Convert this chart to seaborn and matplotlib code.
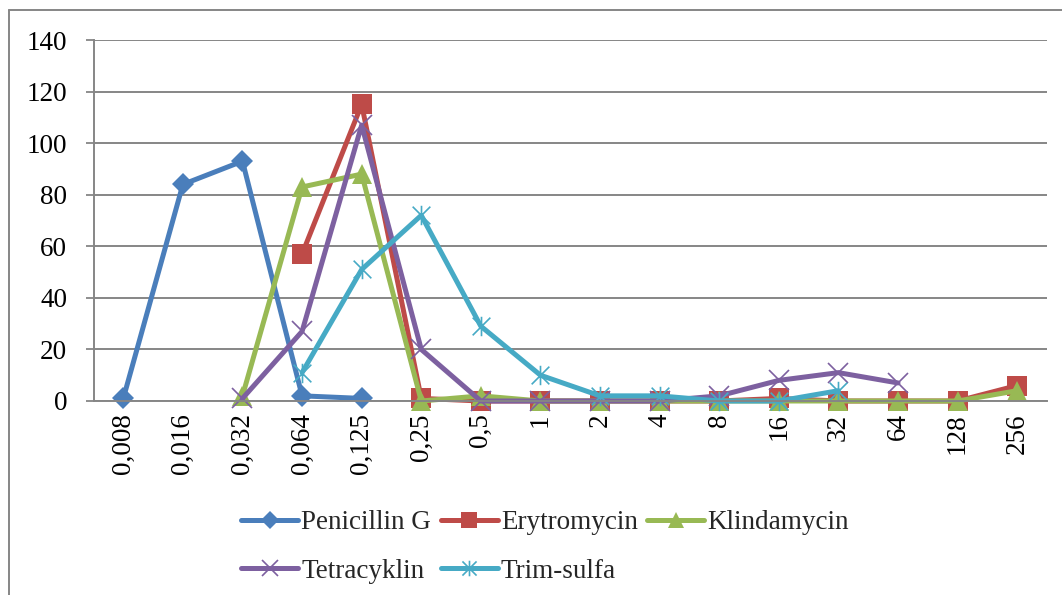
import numpy as np
import pandas as pd
import matplotlib
matplotlib.use("Agg")
import matplotlib.pyplot as plt
from matplotlib.path import Path
from matplotlib.lines import Line2D
import seaborn as sns

# MIC concentrations (category axis)
concentrations = ["0,008", "0,016", "0,032", "0,064", "0,125", "0,25", "0,5", "1",
                  "2", "4", "8", "16", "32", "64", "128", "256"]

nan = np.nan
penicillin_g = [1, 84, 93, 2, 1, nan, nan, nan, nan, nan, nan, nan, nan, nan, nan, nan]
erytromycin = [nan, nan, nan, 57, 115, 1, 0, 0, 0, 0, 0, 1, 0, 0, 0, 6]
klindamycin = [nan, nan, 2, 83, 88, 0, 2, 0, 0, 0, 0, 0, 0, 0, 0, 4]
tetracyklin = [nan, nan, 1, 27, 107, 20, 0, 0, 0, 0, 2, 8, 11, 7, nan, nan]
trim_sulfa = [nan, nan, nan, 11, 51, 72, 29, 10, 2, 2, 0, 0, 4, nan, nan, nan]

series_names = ["Penicillin G", "Erytromycin", "Klindamycin", "Tetracyklin", "Trim-sulfa"]
y_ticks = [0, 20, 40, 60, 80, 100, 120, 140]

# Excel-style asterisk marker: X with a vertical stroke
star_path = Path(
    [(-0.5, -0.5), (0.5, 0.5), (-0.5, 0.5), (0.5, -0.5), (0, -0.55), (0, 0.55)],
    [Path.MOVETO, Path.LINETO, Path.MOVETO, Path.LINETO, Path.MOVETO, Path.LINETO],
)

styles = {
    "Penicillin G": dict(color="#4A7EBB", marker="D", ms=11, mew=0),
    "Erytromycin": dict(color="#BE4B48", marker="s", ms=14, mew=0),
    "Klindamycin": dict(color="#98B954", marker="^", ms=14, mew=0),
    "Tetracyklin": dict(color="#7D60A0", marker="x", ms=14, mew=1.2),
    "Trim-sulfa": dict(color="#46AAC5", marker=star_path, ms=14, mew=1.2),
}

values = [penicillin_g, erytromycin, klindamycin, tetracyklin, trim_sulfa]
frames = []
for name, vals in zip(series_names, values):
    frames.append(pd.DataFrame({"pos": np.arange(len(concentrations)),
                                "value": vals, "drug": name}))
df = pd.concat(frames, ignore_index=True).dropna()

sns.set_theme(style="white")
plt.rcParams["font.family"] = ["Liberation Serif", "DejaVu Serif"]
fs = 19.5

fig = plt.figure(figsize=(10.62, 5.95), dpi=100)
ax = fig.add_axes([93.5 / 1062, 1 - 401 / 595, (1047 - 93.5) / 1062, (401 - 40) / 595])

grid_color = "#868686"
for name in series_names:
    st = styles[name]
    sub = df[df["drug"] == name]
    sns.lineplot(data=sub, x="pos", y="value", ax=ax, color=st["color"],
                 linewidth=3.6, marker=st["marker"], markersize=st["ms"],
                 markeredgewidth=st["mew"], markeredgecolor=st["color"],
                 estimator=None, sort=False, label=name, clip_on=False)

ax.set_xlim(-0.5, len(concentrations) - 0.5)
ax.set_ylim(0, 140)
ax.set_yticks(y_ticks)
ax.set_yticklabels([str(v) for v in y_ticks], fontsize=fs, color="black")
ax.set_xticks(np.arange(len(concentrations)))
ax.set_xticklabels(concentrations, rotation=90, fontsize=fs, color="black")
ax.set_xticks(np.arange(len(concentrations) + 1) - 0.5, minor=True)
ax.set_xlabel("")
ax.set_ylabel("")

ax.tick_params(axis="x", which="major", length=0, pad=9)
ax.tick_params(axis="x", which="minor", length=6, width=1.3, color=grid_color, direction="out")
ax.tick_params(axis="y", which="major", length=6, width=1.3, color=grid_color, pad=13,
               direction="out", left=True)

ax.yaxis.grid(True, color=grid_color, linewidth=1.4)
ax.xaxis.grid(False)
ax.set_axisbelow(True)
for side in ("top", "right"):
    ax.spines[side].set_visible(False)
for side in ("left", "bottom"):
    ax.spines[side].set_color(grid_color)
    ax.spines[side].set_linewidth(1.4)

# legend laid out row by row: matplotlib fills columns first, so reorder
handles, labels = ax.get_legend_handles_labels()
lookup = dict(zip(labels, handles))
order = ["Penicillin G", "Tetracyklin", "Erytromycin", "Trim-sulfa", "Klindamycin"]
ax.legend([lookup[n] for n in order], order, loc="center",
          bbox_to_anchor=(545 / 1062, 1 - 547 / 595),
          bbox_transform=fig.transFigure, ncol=3, frameon=False, fontsize=fs,
          handlelength=2.1, handletextpad=0.12, columnspacing=0.35,
          labelspacing=0.85, markerscale=0.8, borderpad=0)

# chart area border (left and top edges)
fig.add_artist(Line2D([8.5 / 1062, 8.5 / 1062], [0, 1 - 10 / 595],
                      transform=fig.transFigure, color=grid_color, linewidth=1.4))
fig.add_artist(Line2D([8.5 / 1062, 1], [1 - 10 / 595, 1 - 10 / 595],
                      transform=fig.transFigure, color=grid_color, linewidth=1.4))

fig.savefig("out.png", dpi=100, facecolor="white")
